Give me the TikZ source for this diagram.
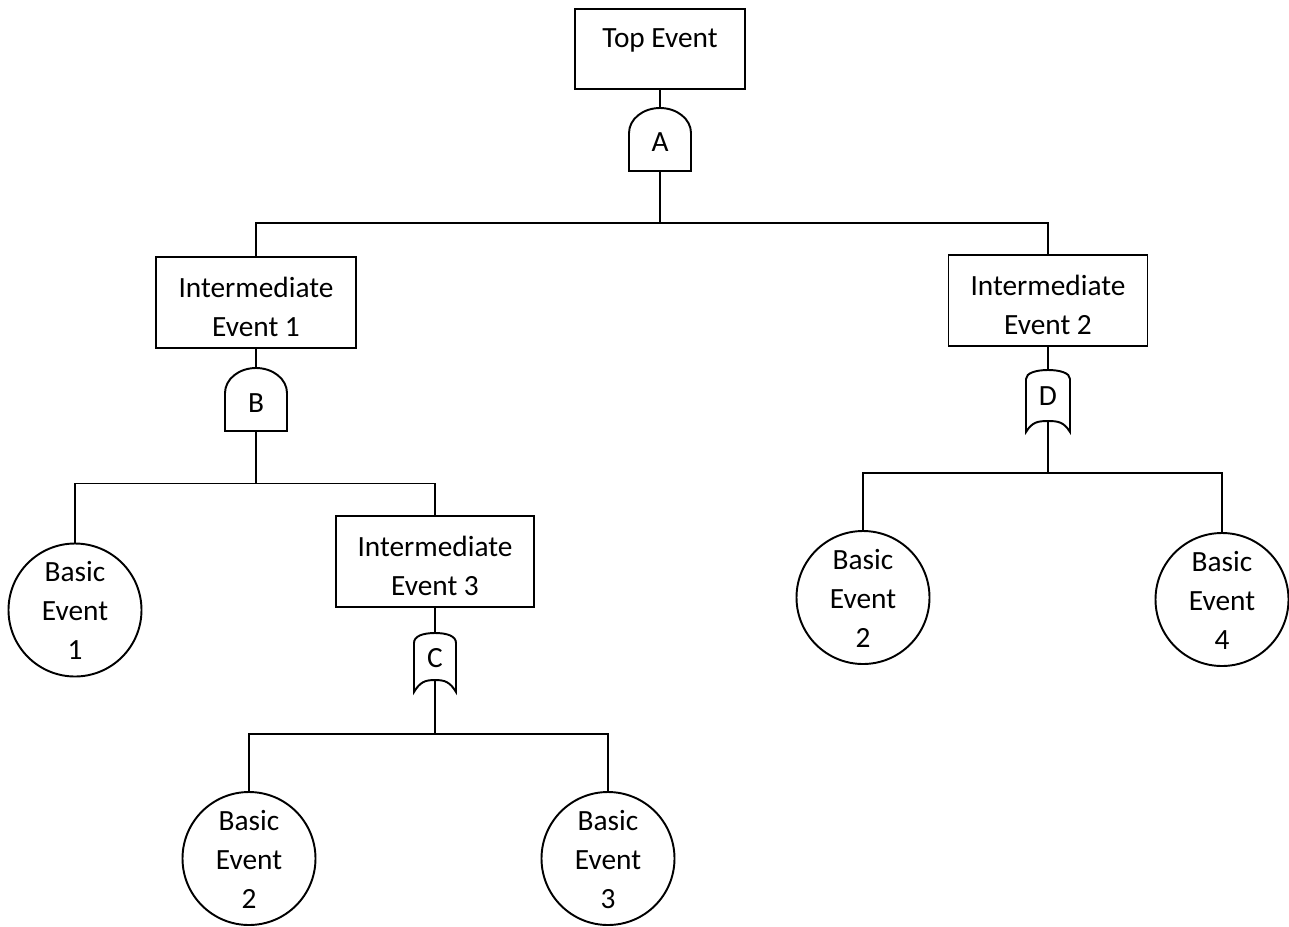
\documentclass[tikz,border=0pt]{standalone}
\usepackage{fontspec}
\setmainfont{Carlito}
\begin{document}
\begin{tikzpicture}[x=0.75pt,y=0.75pt,line width=1.45pt,
  every node/.style={font=\fontsize{22pt}{29.25pt}\selectfont, inner sep=0pt},
  event/.style={draw, rectangle, align=center, text height=50.5pt, text depth=0pt},
  basic/.style={draw, circle, align=center, minimum size=99.75pt, text height=74.5pt, text depth=0pt},
  andgate/.style={outer sep=0pt, minimum width=46.5pt, minimum height=47.25pt},
  orgate/.style={outer sep=0pt, minimum width=31.5pt, minimum height=44.25pt, text height=14pt, text depth=6.9pt}]
\useasboundingbox (0,0) rectangle (1289,-926);

% events
\node[draw, rectangle, minimum width=127.5pt, minimum height=60pt, text height=14.5pt, text depth=17.5pt]
  (top) at (660,-49) {Top Event};
\node[event, minimum width=150pt, minimum height=68.25pt] (ie1) at (256,-302.5) {Intermediate\\Event 1};
\node[event, minimum width=149.25pt, minimum height=68.25pt] (ie2) at (1048,-300.5) {Intermediate\\Event 2};
\node[event, minimum width=148.5pt, minimum height=68.25pt] (ie3) at (435,-561.5) {Intermediate\\Event 3};

\node[basic] (be1)  at (75,-610)    {Basic\\Event\\1};
\node[basic] (be2a) at (249,-858.5) {Basic\\Event\\2};
\node[basic] (be3)  at (608,-858.5) {Basic\\Event\\3};
\node[basic] (be2b) at (863,-597.5) {Basic\\Event\\2};
\node[basic] (be4)  at (1222,-599.5) {Basic\\Event\\4};

% AND gates
\node[andgate, text height=18pt, text depth=0pt] (gA) at (660,-139.5) {A};
\draw (gA.south west) -- ++(0,38) arc[start angle=180, end angle=0, x radius=31, y radius=25]
  -- (gA.south east) -- cycle;
\node[andgate, text height=19.2pt, text depth=0pt] (gB) at (256,-399.5) {B};
\draw (gB.south west) -- ++(0,38) arc[start angle=180, end angle=0, x radius=31, y radius=25]
  -- (gB.south east) -- cycle;

% OR gates
\node[orgate] (gC) at (435,-662.5) {C};
\draw (gC.south west) -- ++(0,49) .. controls +(0,7) and +(-12,0) .. ++(21,10)
  .. controls +(12,0) and +(0,7) .. ++(21,-10) -- ++(0,-49)
  .. controls +(-6,10) and +(10,0) .. ++(-21,12)
  .. controls +(-10,0) and +(6,10) .. cycle;
\node[orgate, minimum width=33pt, minimum height=46.5pt] (gD) at (1048,-401) {D};
\draw (gD.south west) -- ++(0,53) .. controls +(0,6) and +(-12,0) .. ++(22,9)
  .. controls +(12,0) and +(0,6) .. ++(22,-9) -- ++(0,-53)
  .. controls +(-6,10) and +(10,0) .. ++(-22,11)
  .. controls +(-10,0) and +(6,10) .. cycle;

% branch points
\coordinate (busA) at (660,-223);
\coordinate (busB) at (256,-483.5);
\coordinate (busC) at (435,-734);
\coordinate (busD) at (1048,-473);

% connectors
\draw (top.south) -- (gA.north);
\draw (gA.south) -- (busA);
\draw (ie1.north) |- (busA) -| (ie2.north);

\draw (ie1.south) -- (gB.north);
\draw (gB.south) -- (busB);
\draw (be1.north) |- (busB) -| (ie3.north);

\draw (ie3.south) -- (gC.north);
\draw ([yshift=9pt]gC.south) -- (busC);
\draw (be2a.north) |- (busC) -| (be3.north);

\draw (ie2.south) -- (gD.north);
\draw ([yshift=8.25pt]gD.south) -- (busD);
\draw (be2b.north) |- (busD) -| (be4.north);
\end{tikzpicture}
\end{document}
